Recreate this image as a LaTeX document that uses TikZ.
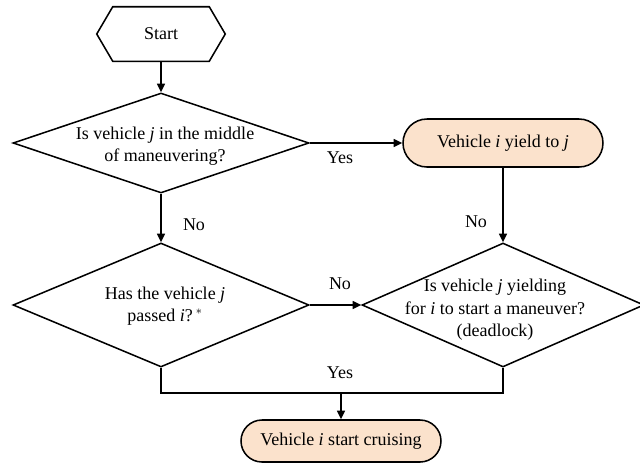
\documentclass[tikz,border=0pt]{standalone}
\usepackage{fontspec}
\setmainfont{Liberation Serif}
\usetikzlibrary{arrows.meta,shapes.geometric,shapes.misc,calc}
\definecolor{peach}{HTML}{FBE2CC}
\begin{document}
\begin{tikzpicture}[x=0.75pt,y=-0.75pt,
  every node/.style={font=\fontsize{13.5}{16.8}\selectfont},
  flow/.style={line width=1.15pt,draw=black},
  arr/.style={flow,-{Triangle[length=6.5pt,width=6pt]}},
  decision/.style={flow,diamond,inner sep=0pt},
  question/.style={align=center,inner sep=0pt},
  terminal/.style={flow,fill=peach,rounded rectangle,inner sep=0pt},
  lbl/.style={inner sep=0pt}
]
\useasboundingbox (0,0) rectangle (640,465);

% start hexagon
\node[minimum width=96pt,minimum height=40.5pt,inner sep=0pt] (start) at (161,34) {Start};
\draw[flow] (start.west) -- ($(start.north west)+(16,0)$) -- ($(start.north east)+(-16,0)$)
  -- (start.east) -- ($(start.south east)+(-16,0)$) -- ($(start.south west)+(16,0)$) -- cycle;

% decisions
\node[decision,minimum width=222pt,minimum height=75pt] (d1) at (161,143) {};
\node[question] at ($(d1.center)+(4,3)$) {Is vehicle \textit{j} in the middle\\of maneuvering?};

\node[decision,minimum width=222pt,minimum height=93pt] (d2) at (161,305) {};
\node[question] at ($(d2.center)+(4,1)$) {Has the vehicle \textit{j}\\passed \textit{i}?\,$^{*}$};

\node[decision,minimum width=211.5pt,minimum height=93pt] (d3) at (503,305) {};
\node[question] at ($(d3.center)+(-8,5)$) {Is vehicle \textit{j} yielding\\for \textit{i} to start a maneuver?\\(deadlock)};

% terminals
\node[terminal,minimum width=150pt,minimum height=36pt] (yield) at (503,143) {Vehicle \textit{i} yield to \textit{j}};
\node[terminal,minimum width=150pt,minimum height=31.5pt] (cruise) at (341,441) {Vehicle \textit{i} start cruising};

% connectors
\draw[arr] (start.south) -- (d1.north);
\draw[arr] (d1.east) -- (yield.west);
\draw[arr] (d1.south) -- (d2.north);
\draw[arr] (d2.east) -- (d3.west);
\draw[arr] (yield.south) -- (d3.north);
\coordinate (join) at (341,393);
\draw[flow] (d2.south) |- (join) -| (d3.south);
\draw[arr] (join) -- (cruise.north);

% branch labels
\node[lbl] at (340,158) {Yes};
\node[lbl] at (194,225) {No};
\node[lbl] at (476,222) {No};
\node[lbl] at (340,284) {No};
\node[lbl] at (340,373) {Yes};
\end{tikzpicture}
\end{document}
